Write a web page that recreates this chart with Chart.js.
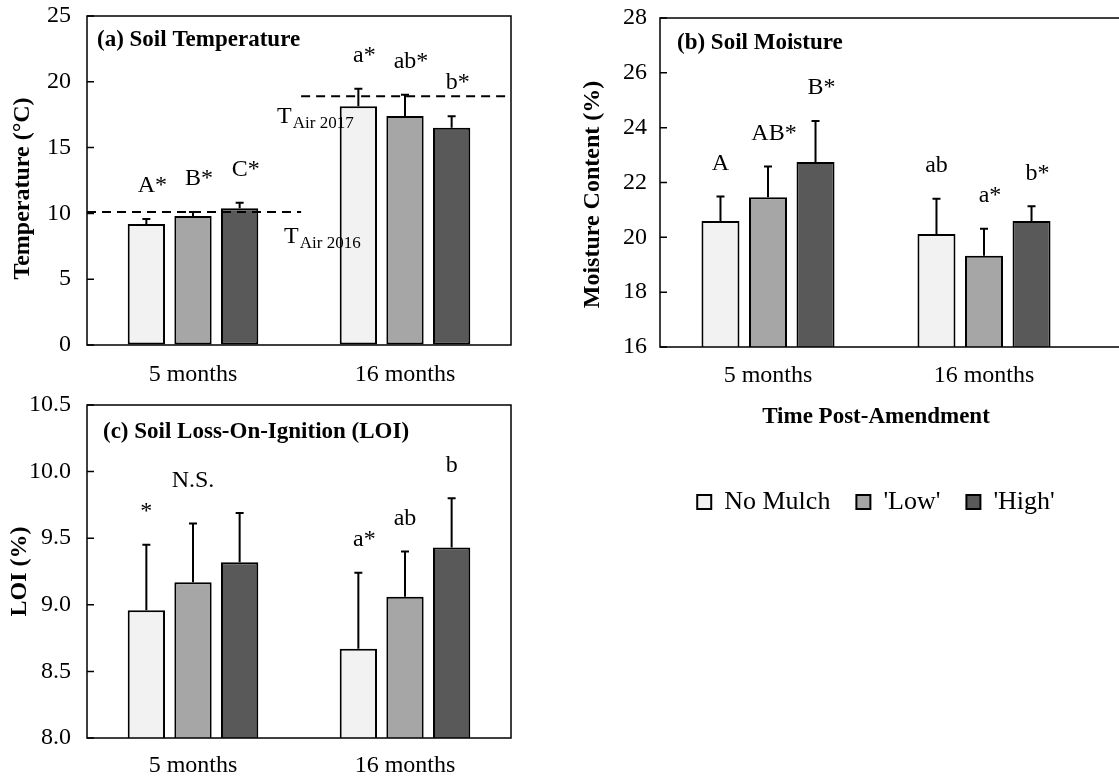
<!DOCTYPE html>
<html>
<head>
<meta charset="utf-8">
<script src="https://cdn.jsdelivr.net/npm/chart.js@4.4.0/dist/chart.umd.min.js"></script>
<style>
  html, body { margin: 0; padding: 0; background: #fff; width: 1119px; height: 780px; overflow: hidden; }
  .panel { position: absolute; }
</style>
</head>
<body>
<div class="panel" style="left:0;top:0;width:560px;height:390px"><canvas id="chartA"></canvas></div>
<div class="panel" style="left:560px;top:0;width:559px;height:525px"><canvas id="chartB"></canvas></div>
<div class="panel" style="left:0;top:390px;width:560px;height:390px"><canvas id="chartC"></canvas></div>
<script>
const categories = ['5 months', '16 months'];
const seriesNames = ['No Mulch', "'Low'", "'High'"];
const seriesColors = ['#f2f2f2', '#a6a6a6', '#595959'];

// (a) soil temperature (°C)
const tempNoMulch = [9.2, 18.15];
const tempLow = [9.8, 17.4];
const tempHigh = [10.4, 16.5];
const tempErrNoMulch = [0.38, 1.33];
const tempErrLow = [0.3, 1.62];
const tempErrHigh = [0.4, 0.89];
const tempSigNoMulch = ['A*', 'a*'];
const tempSigLow = ['B*', 'ab*'];
const tempSigHigh = ['C*', 'b*'];
const tempTicks = [0, 5, 10, 15, 20, 25];
const airTemp = [10.1, 18.9];
const airYears = ['Air 2016', 'Air 2017'];

// (b) soil moisture (%)
const moistNoMulch = [20.6, 20.12];
const moistLow = [21.46, 19.33];
const moistHigh = [22.75, 20.6];
const moistErrNoMulch = [0.89, 1.29];
const moistErrLow = [1.12, 0.98];
const moistErrHigh = [1.49, 0.53];
const moistSigNoMulch = ['A', 'ab'];
const moistSigLow = ['AB*', 'a*'];
const moistSigHigh = ['B*', 'b*'];
const moistTicks = [16, 18, 20, 22, 24, 26, 28];

// (c) loss on ignition (%)
const loiNoMulch = [8.96, 8.67];
const loiLow = [9.17, 9.06];
const loiHigh = [9.32, 9.43];
const loiErrNoMulch = [0.49, 0.57];
const loiErrLow = [0.44, 0.34];
const loiErrHigh = [0.37, 0.37];
const loiSigNoMulch = ['*', 'a*'];
const loiSigLow = ['', 'ab'];
const loiSigHigh = ['', 'b'];
const loiGroupNote = ['N.S.', ''];
const loiTicks = [8.0, 8.5, 9.0, 9.5, 10.0, 10.5];

const SERIF = "'Liberation Serif', 'Times New Roman', serif";
Chart.defaults.font.family = SERIF;
Chart.defaults.color = '#000';

function makeDatasets(vals, errs, sigs) {
  return vals.map((v, k) => ({
    label: seriesNames[k],
    data: v,
    err: errs[k],
    sig: sigs[k],
    backgroundColor: seriesColors[k],
    borderColor: '#000',
    borderWidth: 2,
    borderSkipped: false,
    categoryPercentage: 0.66,
    barPercentage: 0.8
  }));
}

function decor(cfg) {
  return {
    id: 'decor',
    afterDatasetsDraw(chart) {
      const { ctx, chartArea: a, scales: { x, y } } = chart;
      ctx.save();
      ctx.strokeStyle = '#000';
      ctx.fillStyle = '#000';

      // dashed air temperature lines with labels
      (cfg.refLines || []).forEach(r => {
        const py = y.getPixelForValue(r.value);
        const x1 = x.getPixelForValue(r.from), x2 = x.getPixelForValue(r.to);
        ctx.setLineDash([9, 6]);
        ctx.lineWidth = 2;
        ctx.beginPath(); ctx.moveTo(x1, py); ctx.lineTo(x2, py); ctx.stroke();
        ctx.setLineDash([]);
        const lx = (r.anchor === 'end' ? x2 : x1) + r.dx;
        ctx.textAlign = 'left';
        ctx.textBaseline = 'alphabetic';
        ctx.font = '24px ' + SERIF;
        ctx.fillText('T', lx, py + r.dy);
        const tw = ctx.measureText('T').width;
        ctx.font = '17px ' + SERIF;
        ctx.fillText(r.sub, lx + tw + 1, py + r.dy + 5);
      });

      // error bars and significance letters
      const errTops = [];
      chart.data.datasets.forEach((ds, di) => {
        chart.getDatasetMeta(di).data.forEach((bar, i) => {
          const yTop = y.getPixelForValue(ds.data[i] + ds.err[i]);
          errTops[i] = Math.min(errTops[i] ?? Infinity, yTop);
          ctx.lineWidth = 2;
          ctx.beginPath();
          ctx.moveTo(bar.x, bar.y); ctx.lineTo(bar.x, yTop);
          ctx.moveTo(bar.x - 4, yTop); ctx.lineTo(bar.x + 4, yTop);
          ctx.stroke();
          const s = ds.sig[i];
          if (s) {
            ctx.font = '24px ' + SERIF;
            ctx.textAlign = 'center';
            ctx.textBaseline = 'middle';
            const shift = (s.length > 1 && s.endsWith('*')) ? ctx.measureText('*').width / 2 : 0;
            ctx.fillText(s, bar.x + shift, yTop - 33);
          }
        });
      });
      (cfg.groupNotes || []).forEach((t, i) => {
        if (!t) return;
        ctx.font = '24px ' + SERIF;
        ctx.textAlign = 'center';
        ctx.textBaseline = 'middle';
        ctx.fillText(t, x.getPixelForValue(i), errTops[i] - 32);
      });

      // plot frame
      ctx.lineWidth = 1.5;
      ctx.beginPath();
      if (cfg.openRight) {
        ctx.moveTo(chart.width, a.top); ctx.lineTo(a.left, a.top);
        ctx.lineTo(a.left, a.bottom); ctx.lineTo(chart.width, a.bottom);
      } else {
        ctx.rect(a.left, a.top, a.right - a.left, a.bottom - a.top);
      }
      ctx.stroke();

      // inward tick marks
      ctx.beginPath();
      y.ticks.forEach(t => {
        const py = y.getPixelForValue(t.value);
        ctx.moveTo(a.left, py); ctx.lineTo(a.left + 7, py);
      });
      ctx.stroke();

      // panel title
      ctx.font = 'bold 23px ' + SERIF;
      ctx.textAlign = 'left';
      ctx.textBaseline = 'middle';
      ctx.fillText(cfg.title, a.left + cfg.titleDx, a.top + cfg.titleDy);

      // y axis title (Excel centres it a little below the plot middle)
      ctx.font = 'bold 24px ' + SERIF;
      ctx.textAlign = 'center';
      ctx.translate(cfg.yTitleX, (a.top + a.bottom) / 2 + cfg.yTitleDy);
      ctx.rotate(-Math.PI / 2);
      ctx.fillText(cfg.yTitle, 0, 0);
      ctx.restore();
    }
  };
}

function makeChart(id, p) {
  return new Chart(document.getElementById(id), {
    type: 'bar',
    data: { labels: categories, datasets: makeDatasets(p.vals, p.errs, p.sigs) },
    options: {
      responsive: true,
      maintainAspectRatio: false,
      animation: false,
      layout: { padding: p.padding },
      plugins: {
        legend: p.legend || { display: false },
        tooltip: { enabled: false }
      },
      scales: {
        x: {
          grid: { display: false, drawTicks: false },
          border: { display: false },
          ticks: { padding: p.xPad, font: { size: 24 }, color: '#000' },
          title: p.xTitle || { display: false },
          afterFit: s => { s.height = p.xHeight; }
        },
        y: {
          min: p.ticks[0],
          max: p.ticks[p.ticks.length - 1],
          // invisible tick marks give the label gap (ticks.padding would also pad the top)
          grid: { display: true, drawOnChartArea: false, drawTicks: true,
                  tickLength: p.yPad, tickColor: 'rgba(0,0,0,0)' },
          border: { display: false },
          afterBuildTicks: s => { s.ticks = p.ticks.map(v => ({ value: v })); },
          ticks: { padding: 0, font: { size: 24 }, color: '#000', callback: p.fmt },
          afterFit: s => { s.width = p.yWidth; }
        }
      }
    },
    plugins: [decor(p.decor)]
  });
}

makeChart('chartA', {
  vals: [tempNoMulch, tempLow, tempHigh],
  errs: [tempErrNoMulch, tempErrLow, tempErrHigh],
  sigs: [tempSigNoMulch, tempSigLow, tempSigHigh],
  ticks: tempTicks, fmt: v => String(v),
  padding: { top: 16, right: 49, left: 0, bottom: 0 },
  xHeight: 45, xPad: 15, yWidth: 87, yPad: 16,
  decor: {
    title: '(a) Soil Temperature', titleDx: 10, titleDy: 24,
    yTitle: 'Temperature (°C)', yTitleX: 23, yTitleDy: 8,
    refLines: [
      { value: airTemp[0], from: -0.5, to: 0.51, sub: airYears[0], anchor: 'end', dx: -17, dy: 31 },
      { value: airTemp[1], from: 0.51, to: 1.5, sub: airYears[1], anchor: 'start', dx: -24, dy: 27 }
    ]
  }
});

makeChart('chartB', {
  vals: [moistNoMulch, moistLow, moistHigh],
  errs: [moistErrNoMulch, moistErrLow, moistErrHigh],
  sigs: [moistSigNoMulch, moistSigLow, moistSigHigh],
  ticks: moistTicks, fmt: v => String(v),
  padding: { top: 18, right: 27, left: 0, bottom: 0 },
  xHeight: 116, xPad: 14, yWidth: 100, yPad: 13,
  xTitle: { display: true, text: 'Time Post-Amendment', color: '#000',
            font: { size: 23, weight: 'bold' }, padding: { top: 0, bottom: 32 } },
  legend: {
    display: true, position: 'bottom', fullSize: false,
    labels: { boxWidth: 14, boxHeight: 14, padding: 26, color: '#000', font: { size: 26 } }
  },
  decor: {
    title: '(b) Soil Moisture', titleDx: 17, titleDy: 25, openRight: true,
    yTitle: 'Moisture Content (%)', yTitleX: 33, yTitleDy: 12
  }
});

makeChart('chartC', {
  vals: [loiNoMulch, loiLow, loiHigh],
  errs: [loiErrNoMulch, loiErrLow, loiErrHigh],
  sigs: [loiSigNoMulch, loiSigLow, loiSigHigh],
  ticks: loiTicks, fmt: v => v.toFixed(1),
  padding: { top: 15, right: 49, left: 0, bottom: 0 },
  xHeight: 42, xPad: 13, yWidth: 87, yPad: 16,
  decor: {
    title: '(c) Soil Loss-On-Ignition (LOI)', titleDx: 16, titleDy: 27, groupNotes: loiGroupNote,
    yTitle: 'LOI (%)', yTitleX: 20, yTitleDy: 0
  }
});
</script>
</body>
</html>
